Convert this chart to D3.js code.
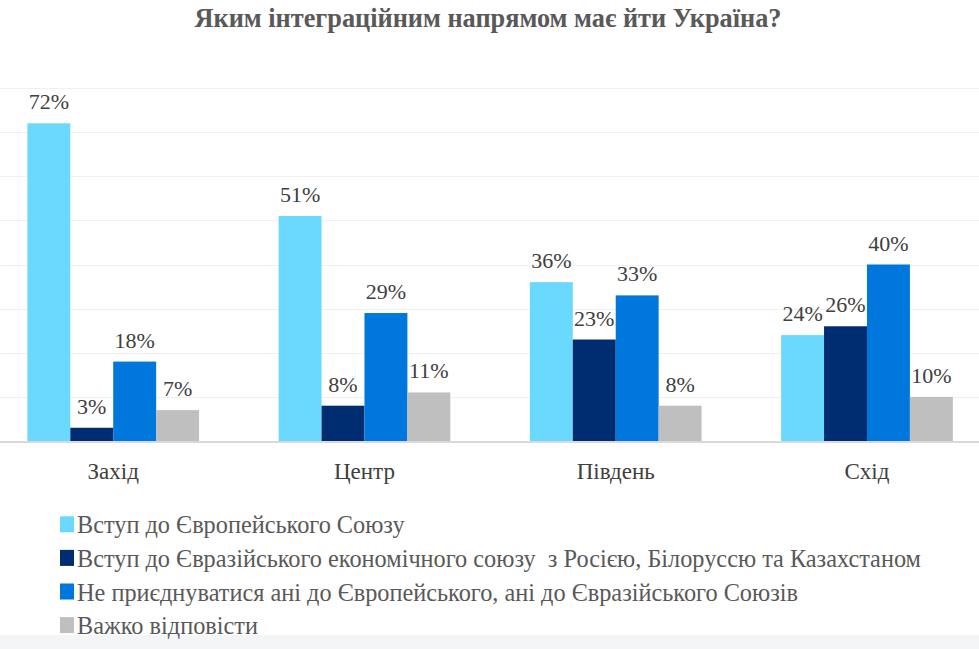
<!DOCTYPE html>
<html><head><meta charset="utf-8">
<script src="https://cdn.jsdelivr.net/npm/d3@7"></script>
<style>html,body{margin:0;padding:0;background:#fff;overflow:hidden}</style>
</head><body>
<svg id="c" width="979" height="649"></svg>
<script>
const title = "Яким інтеграційним напрямом має йти Україна?";
const categories = ["Захід", "Центр", "Південь", "Схід"];
const seriesNames = [
  "Вступ до Європейського Союзу",
  "Вступ до Євразійського економічного союзу  з Росією, Білоруссю та Казахстаном",
  "Не приєднуватися ані до Європейського, ані до Євразійського Союзів",
  "Важко відповісти"
];
const euValues = [72, 51, 36, 24];
const eaeuValues = [3, 8, 23, 26];
const neitherValues = [18, 29, 33, 40];
const hardValues = [7, 11, 8, 10];
const yTicks = [10, 20, 30, 40, 50, 60, 70, 80];
const colors = ["#6BD9FD", "#002C71", "#0077DC", "#BFBFBF"];

const seriesValues = [euValues, eaeuValues, neitherValues, hardValues];
const W = 979, H = 649;
const svg = d3.select("#c");
const serif = "'Liberation Serif','Times New Roman',serif";

// bottom band
svg.append("rect").attr("x", 0).attr("y", 635).attr("width", W).attr("height", H - 635).attr("fill", "#F4F5F7");

// title
svg.append("text").attr("x", 488).attr("y", 27).attr("text-anchor", "middle")
  .attr("font-family", serif).attr("font-weight", "bold").attr("font-size", 26.3)
  .attr("fill", "#595959").text(title);

const y = d3.scaleLinear().domain([0, 80]).range([441, 88]);
const x0 = d3.scaleBand().domain(categories).range([-12.4, 992.6]).paddingInner(0.3166).paddingOuter(0.1583);
const x1 = d3.scaleBand().domain(d3.range(seriesNames.length)).range([0, x0.bandwidth()]);

// gridlines
svg.append("g").selectAll("line").data(yTicks).join("line")
  .attr("x1", 0).attr("x2", W).attr("y1", d => Math.round(y(d)) + 0.5).attr("y2", d => Math.round(y(d)) + 0.5)
  .attr("stroke", "#F0F0F0").attr("stroke-width", 1.2);

// bars
const data = [];
categories.forEach((c, i) => seriesValues.forEach((vals, s) => data.push({c, s, v: vals[i]})));
svg.append("g").selectAll("rect").data(data).join("rect")
  .attr("x", d => x0(d.c) + x1(d.s)).attr("width", x1.bandwidth())
  .attr("y", d => y(d.v)).attr("height", d => y(0) - y(d.v))
  .attr("fill", d => colors[d.s]);

// baseline
svg.append("line").attr("x1", 0).attr("x2", W).attr("y1", y(0) + 1).attr("y2", y(0) + 1)
  .attr("stroke", "#D9D9D9").attr("stroke-width", 2);

// value labels
svg.append("g").selectAll("text").data(data).join("text")
  .attr("x", d => x0(d.c) + x1(d.s) + x1.bandwidth() / 2)
  .attr("y", d => y(d.v) - 14)
  .attr("text-anchor", "middle").attr("font-family", serif).attr("font-size", 22)
  .attr("fill", "#404040").text(d => d.v + "%");

// category axis labels
const xAxis = d3.axisBottom(x0).tickSize(0).tickPadding(0);
const gx = svg.append("g").attr("transform", "translate(0,478.5)").call(xAxis);
gx.select(".domain").remove();
gx.attr("font-family", serif);
gx.selectAll("text").attr("dy", 0).attr("font-family", serif).attr("font-size", 23).attr("fill", "#404040");

// legend
const lg = svg.append("g").selectAll("g").data(seriesNames).join("g")
  .attr("transform", (d, i) => `translate(0,${533.3 + i * 33.6})`);
lg.append("rect").attr("x", 60).attr("y", -17).attr("width", 14).attr("height", 16).attr("fill", (d, i) => colors[i]);
lg.append("text").attr("x", 77).attr("y", 0).attr("font-family", serif).attr("font-size", 24.3)
  .attr("fill", "#595959").attr("xml:space", "preserve").style("white-space", "pre").text(d => d);
</script>
</body></html>
